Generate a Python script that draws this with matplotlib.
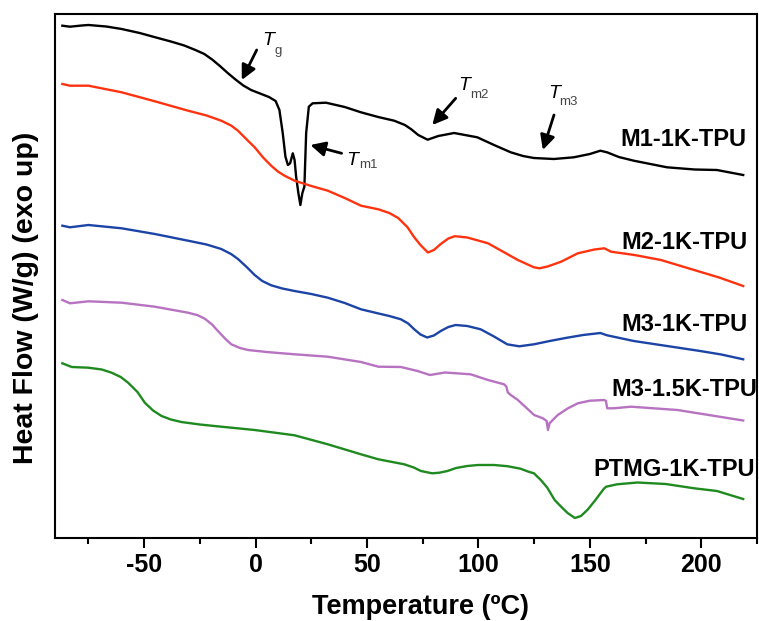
import numpy as np
import matplotlib
matplotlib.use('Agg')
import matplotlib.pyplot as plt

plt.rcParams['font.family'] = ['Liberation Sans', 'DejaVu Sans']
plt.rcParams['axes.unicode_minus'] = False

# DSC traces, heat flow in arbitrary (offset) units
t_m1 = [-86.7, -83.3, -78, -75, -67, -60.1, -52, -45, -38, -32, -27, -23, -19.5, -16, -12.5,
        -9, -5.5, -2, 2, 6, 9, 10.7, 12.2, 13.4, 14.5, 15.5, 16.7, 17.5, 18.2,
        19.2, 20.1, 21.0, 21.9, 22.7, 23.9, 25.6, 31.6, 40, 47.3, 55, 62.2, 67, 69.7, 73,
        77.2, 82, 89.1, 99.5, 107, 114.5, 120, 124.9, 133.8, 142.8, 150, 154.7, 157.7, 163,
        169.7, 184.6, 197, 207, 218.8]
hf_m1 = [512.3, 511.3, 512.5, 513, 511.5, 509, 505, 500.7, 496.5, 492.5, 488, 484, 478.5, 472,
         465, 458.5, 452.5, 448, 444.5, 441, 437, 428, 404.7, 381.3, 373, 374.7, 384.7, 378,
         361.3, 345, 333, 345, 351.3, 405, 431.3, 434.7, 435.3, 431, 425.7, 421, 417.3, 413,
         409, 403, 398.3, 402, 405, 400.7, 393, 385.7, 382, 380, 379, 380.7, 384, 387.3, 385.7,
         381, 377.3, 370.7, 368.5, 368, 363]

t_m2 = [-86.7, -83.3, -75, -60.1, -45.2, -30.3, -22, -15.4, -11, -7.9, -4.2, -0.4, 3.3, 7.0,
        10, 13, 17.5, 25, 32.4, 40, 47.3, 55.1, 60, 64, 68.2, 71.2, 74, 77.3, 80, 83.1, 86.5,
        89.4, 95, 104.3, 112.9, 117.7, 124.9, 127.4, 131, 137.1, 144.6, 152, 156.5, 159.5,
        170, 181.9, 196.8, 208, 218.8]
hf_m2 = [454, 452.3, 452.3, 445.7, 436.7, 427.3, 422.5, 417.3, 412.5, 407.3, 399, 390.7, 380.7,
         372.3, 366.5, 362.3, 357.3, 352, 347.3, 340, 332.3, 328.7, 325, 320, 310.7, 300.7,
         293, 285.5, 288, 294, 299.5, 301.8, 300.5, 294.7, 284, 278, 270.7, 269.7, 271.5,
         276.3, 284.7, 288.5, 289.7, 286.3, 283, 278, 268, 260.5, 252]

t_m3 = [-86.7, -83.3, -75, -60.1, -45.2, -30.3, -22, -15.4, -11, -7.9, -4, -0.4, 3, 7.0, 12,
        17.5, 25, 32.4, 40, 47.3, 54.8, 60, 65.2, 68.5, 71.2, 74, 77.0, 80, 83.1, 86.5, 89.8,
        95, 101, 107, 112.9, 118.3, 124.9, 132, 139.8, 147, 154.7, 157.7, 169.7, 184.6, 199.5,
        209, 218.8]
hf_m3 = [312.3, 310.7, 313, 309.7, 304, 297.3, 293.5, 289, 284, 279, 271, 263, 257, 252.7,
         249.5, 247, 244, 240.3, 235, 228.7, 224.7, 222, 218.7, 214.5, 208.7, 203.5, 200.5,
         202.5, 207, 211, 213, 212, 208.7, 201.5, 193.7, 191.7, 193.7, 197, 200.3, 203, 205,
         202.7, 197, 192, 187, 183.5, 178.7]

t_m3b = [-86.7, -83.3, -75, -60.1, -45.2, -30.3, -26, -22.8, -19.5, -16.9, -13.5, -10.9, -7,
         -3.4, 5, 17.5, 32.4, 47.3, 55.1, 65.2, 72.7, 78.2, 85.0, 96.5, 104.3, 111.5, 112.5,
         113.2, 114.5, 117.7, 125.0, 128.9, 130.6, 131.2, 131.9, 135.6, 140, 144.6, 150,
         156.5, 157.2, 157.8, 160.7, 168.5, 189.3, 218.8]
hf_m3b = [238, 234.7, 236.7, 235.3, 231.3, 225.3, 222.8, 219.3, 213.5, 207, 199, 193.7, 190,
          188, 186, 183.7, 181.3, 176, 171.3, 171, 167, 163, 165.5, 163.7, 158, 153.7, 151.5,
          145.5, 143, 138, 123, 119.7, 117, 108, 114.7, 123, 129.5, 134.7, 137.3, 138, 137,
          129.7, 129.7, 131.3, 128, 117.5]

t_ptmg = [-86.7, -82.5, -75, -69, -64.6, -60.5, -57.2, -53, -49.7, -46, -42.2, -38, -33.3, -25,
          -15.4, -0.4, 17.5, 32.4, 47.3, 55.1, 66.7, 71, 74.2, 79.2, 82.5, 86.1, 90, 95, 99.8,
          107, 113, 118.9, 122.2, 124.9, 128, 130.9, 134.2, 136.8, 140, 143.3, 146, 149.0,
          152.5, 156.2, 157.3, 162.2, 171.4, 184, 196.8, 207, 218.8]
hf_ptmg = [174.7, 171, 170.3, 168.5, 165.3, 161, 155.3, 146, 135.3, 127.5, 122, 118.5, 116,
           113.5, 111.3, 108, 102.7, 93.7, 83.7, 78.7, 73.7, 70.5, 67, 64.7, 65.3, 67, 70, 72,
           73, 73, 71.8, 69.3, 66.5, 64.7, 58, 50.3, 38, 32, 25, 20, 22, 28.3, 38, 49, 51.3,
           53.7, 55.5, 54, 49.7, 47, 39]

series = [(t_m1, hf_m1, '#000000', 'M1-1K-TPU'),
          (t_m2, hf_m2, '#ff3310', 'M2-1K-TPU'),
          (t_m3, hf_m3, '#1c44a6', 'M3-1K-TPU'),
          (t_m3b, hf_m3b, '#b872c2', 'M3-1.5K-TPU'),
          (t_ptmg, hf_ptmg, '#1f8a1f', 'PTMG-1K-TPU')]

# label anchor (right end, baseline) per curve
label_pos = [(220.4, 392.3), (221.0, 289), (221.0, 207), (225.0, 142), (224.1, 62)]

fig = plt.figure(figsize=(7.59, 6.21), dpi=100)
ax = fig.add_axes([55 / 759, 83 / 621, 702 / 759, 524 / 621])

for (t, hf, c, name), (lx, ly) in zip(series, label_pos):
    ax.plot(t, hf, color=c, lw=1.7, solid_joinstyle='round')
    ax.text(lx, ly, name, ha='right', va='baseline', fontsize=17, fontweight='bold')

# transition arrows: (tail, tip, T position, subscript position, subscript)
marks = [((0.5, 488), (-6.2, 458), (3.2, 493), (8.3, 484), 'g'),
         ((38.6, 384.7), (24.6, 393), (40.6, 373), (46.3, 369.7), 'm1'),
         ((89.8, 439.7), (79.3, 413), (91.0, 448), (96.3, 439.7), 'm2'),
         ((133.9, 423), (128.9, 388), (131.4, 439.7), (136.4, 433), 'm3')]
for tail, tip, tpos, spos, sub in marks:
    ax.annotate('', xy=tip, xytext=tail,
                arrowprops=dict(arrowstyle='-|>', color='k', lw=2,
                                mutation_scale=22, shrinkA=0, shrinkB=0))
    ax.text(tpos[0], tpos[1], 'T', style='italic', fontsize=14, ha='left', va='baseline')
    ax.text(spos[0], spos[1], sub, fontsize=9.5, color='#444444', ha='left', va='baseline')

ax.set_xlim(-90, 225)
ax.set_ylim(0, 524)
ax.set_xticks([-50, 0, 50, 100, 150, 200])
ax.set_xticks([-75, -25, 25, 75, 125, 175, 225], minor=True)
ax.set_yticks([])
ax.tick_params(axis='x', which='major', direction='out', length=7, width=1.5,
               labelsize=18, pad=4)
ax.tick_params(axis='x', which='minor', direction='out', length=4.5, width=1.5)
for lab in ax.get_xticklabels():
    lab.set_fontweight('bold')
for s in ax.spines.values():
    s.set_linewidth(1.5)

fig.text(420 / 759, 1 - 614.5 / 621, 'Temperature (ºC)', ha='center', va='baseline',
         fontsize=19.5, fontweight='bold')
fig.text(33.3 / 759, 1 - 297.5 / 621, 'Heat Flow (W/g) (exo up)', ha='center', va='baseline',
         rotation=90, rotation_mode='anchor', fontsize=20.5, fontweight='bold')

fig.savefig('out.png', dpi=100)
